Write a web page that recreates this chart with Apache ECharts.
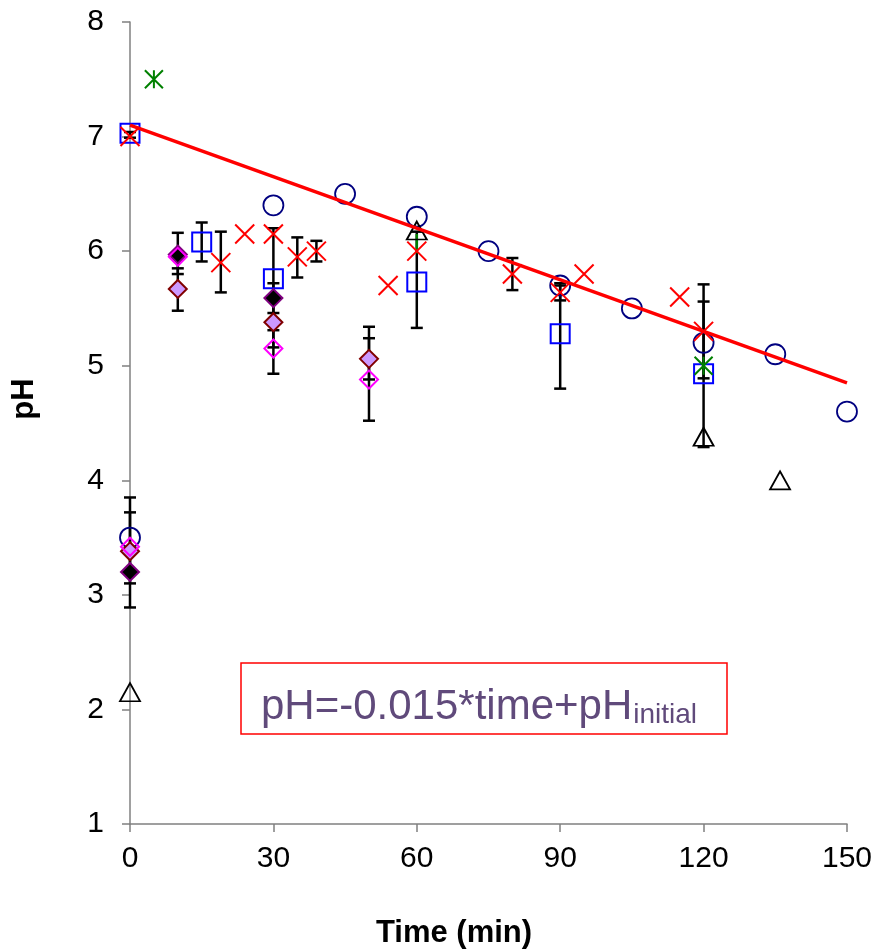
<!DOCTYPE html>
<html>
<head>
<meta charset="utf-8">
<script src="https://cdn.jsdelivr.net/npm/echarts@6/dist/echarts.min.js"></script>
<style>html,body{margin:0;padding:0;background:#fff}#c{width:875px;height:952px}</style>
</head>
<body>
<div id="c"></div>
<script>
// ---- data ----
const xTicks = [0, 30, 60, 90, 120, 150];
const yTicks = [1, 2, 3, 4, 5, 6, 7, 8];

const circles = [[0,3.5],[30,6.4],[45,6.5],[60,6.3],[75,6.0],[90,5.7],[105,5.5],[120,5.2],[135,5.1],[150,4.6]];
const squares = [[0,7.03],[15,6.08],[30,5.76],[60,5.73],[90,5.28],[120,4.93]];
const triangles = [[0,2.15],[60,6.18],[120,4.38],[136,4.0]];
const crosses = [[0,7.0],[19,5.9],[24,6.15],[30,6.15],[35,5.95],[39,6.0],[54,5.7],[60,6.0],[80,5.8],[90,5.64],[95,5.8],[115,5.6],[120,5.3]];
const asterisks = [[5,7.5],[120,5.0]];
const blackDiamonds = [[0,3.2],[10,5.97],[30,5.59]];
const lavenderDiamonds = [[0,3.38],[10,5.67],[30,5.38],[50,5.06]];
const pinkDiamonds = [[0,3.42],[10,5.95],[30,5.15],[50,4.88]];
const errorBars = [[0,2.89,3.85],[0,3.10,3.72],[0,6.99,7.04],[10,5.48,5.85],[10,5.80,6.16],[15,5.91,6.25],[19,5.64,6.17],
  [30,4.93,6.20],[30,5.46,5.72],[30,5.16,5.31],[35,5.77,6.12],[39,5.91,6.09],[50,4.52,5.34],[50,4.88,5.24],
  [60,5.33,6.17],[80,5.66,5.94],[90,4.80,5.72],[90,5.57,5.70],[120,4.29,5.71],[120,4.89,5.56]];
const greenBars = [[60,5.98,6.15]];
const trendLine = [[0,7.1],[150,4.85]];
const equationMain = 'pH=-0.015*time+pH';
const equationSub = 'initial';

// ---- chart ----
const FONT = 'Arial, "Liberation Sans", sans-serif';
const chart = echarts.init(document.getElementById('c'));

function errRender(caps, color) {
  return function (params, api) {
    const x = api.value(0), lo = api.value(1), hi = api.value(2);
    const a = api.coord([x, lo]), b = api.coord([x, hi]);
    const st = {stroke: color, lineWidth: 2.5};
    const ch = [{type: 'line', shape: {x1: a[0], y1: a[1], x2: b[0], y2: b[1]}, style: st}];
    if (caps) {
      ch.push({type: 'line', shape: {x1: a[0]-6, y1: a[1], x2: a[0]+6, y2: a[1]}, style: st});
      ch.push({type: 'line', shape: {x1: b[0]-6, y1: b[1], x2: b[0]+6, y2: b[1]}, style: st});
    }
    return {type: 'group', children: ch};
  };
}

function scatter(data, symbol, size, fill, stroke, width, z) {
  return {type: 'scatter', data: data, symbol: symbol, symbolSize: size, z: z || 3,
    itemStyle: {color: fill, borderColor: stroke, borderWidth: width, opacity: 1},
    emphasis: {disabled: true}};
}

// measure main equation text width for subscript placement
const cv = document.createElement('canvas').getContext('2d');
cv.font = '42px ' + FONT;
const mainW = cv.measureText(equationMain).width;

const option = {
  animation: false,
  grid: {left: 130, right: 27, top: 22, bottom: 128},
  xAxis: {
    type: 'value', min: xTicks[0], max: xTicks[xTicks.length-1], interval: 30,
    axisLine: {show: true, onZero: false, lineStyle: {color: '#808080', width: 1.5}},
    axisTick: {show: true, length: 8, lineStyle: {color: '#808080', width: 1.5}},
    axisLabel: {fontSize: 30, color: '#000', fontFamily: FONT, margin: 20},
    splitLine: {show: false}
  },
  yAxis: {
    type: 'value', min: yTicks[0], max: yTicks[yTicks.length-1], interval: 1,
    axisLine: {show: true, onZero: false, lineStyle: {color: '#808080', width: 1.5}},
    axisTick: {show: true, length: 8, lineStyle: {color: '#808080', width: 1.5}},
    axisLabel: {fontSize: 30, color: '#000', fontFamily: FONT, margin: 26},
    splitLine: {show: false}
  },
  series: [
    {type: 'custom', data: errorBars, renderItem: errRender(true, '#000'), z: 1, silent: true},
    {type: 'custom', data: greenBars, renderItem: errRender(false, '#008000'), z: 1, silent: true},
    scatter(circles, 'circle', 20, 'rgba(0,0,0,0)', '#000080', 1.8),
    scatter(squares, 'rect', 19, 'rgba(0,0,0,0)', '#0000ff', 2),
    scatter(triangles, 'triangle', [20, 18], 'rgba(0,0,0,0)', '#000', 1.8),
    scatter(blackDiamonds, 'diamond', 18, '#000', '#800080', 2),
    scatter(lavenderDiamonds, 'diamond', 18, '#cc99ff', '#800000', 2),
    scatter(pinkDiamonds, 'diamond', 18, 'rgba(0,0,0,0)', '#ff00ff', 2),
    scatter(crosses, 'path://M0,0L10,10M10,0L0,10', 19, 'rgba(0,0,0,0)', '#ff0000', 2),
    scatter(asterisks, 'path://M5,0L5,10M0,0L10,10M10,0L0,10', 18, 'rgba(0,0,0,0)', '#008000', 2),
    {type: 'line', data: trendLine, symbol: 'none', z: 5,
      lineStyle: {color: '#ff0000', width: 3.5}, emphasis: {disabled: true}}
  ],
  graphic: [
    {type: 'text', x: 24, y: 399, rotation: Math.PI/2,
      style: {text: 'pH', font: 'bold 31px ' + FONT, fill: '#000', align: 'center', verticalAlign: 'middle'}},
    {type: 'text', x: 454, y: 933,
      style: {text: 'Time (min)', font: 'bold 31px ' + FONT, fill: '#000', align: 'center', verticalAlign: 'middle'}},
    {type: 'rect', shape: {x: 241, y: 663, width: 486, height: 71},
      style: {fill: '#fff', stroke: '#ff0000', lineWidth: 1.5}, z: 10},
    {type: 'text', x: 261, y: 707, z: 11,
      style: {text: equationMain, font: '42px ' + FONT, fill: '#604a7b', align: 'left', verticalAlign: 'middle'}},
    {type: 'text', x: 261 + mainW + 1, y: 715, z: 11,
      style: {text: equationSub, font: '28px ' + FONT, fill: '#604a7b', align: 'left', verticalAlign: 'middle'}}
  ]
};
chart.setOption(option);
</script>
</body>
</html>
